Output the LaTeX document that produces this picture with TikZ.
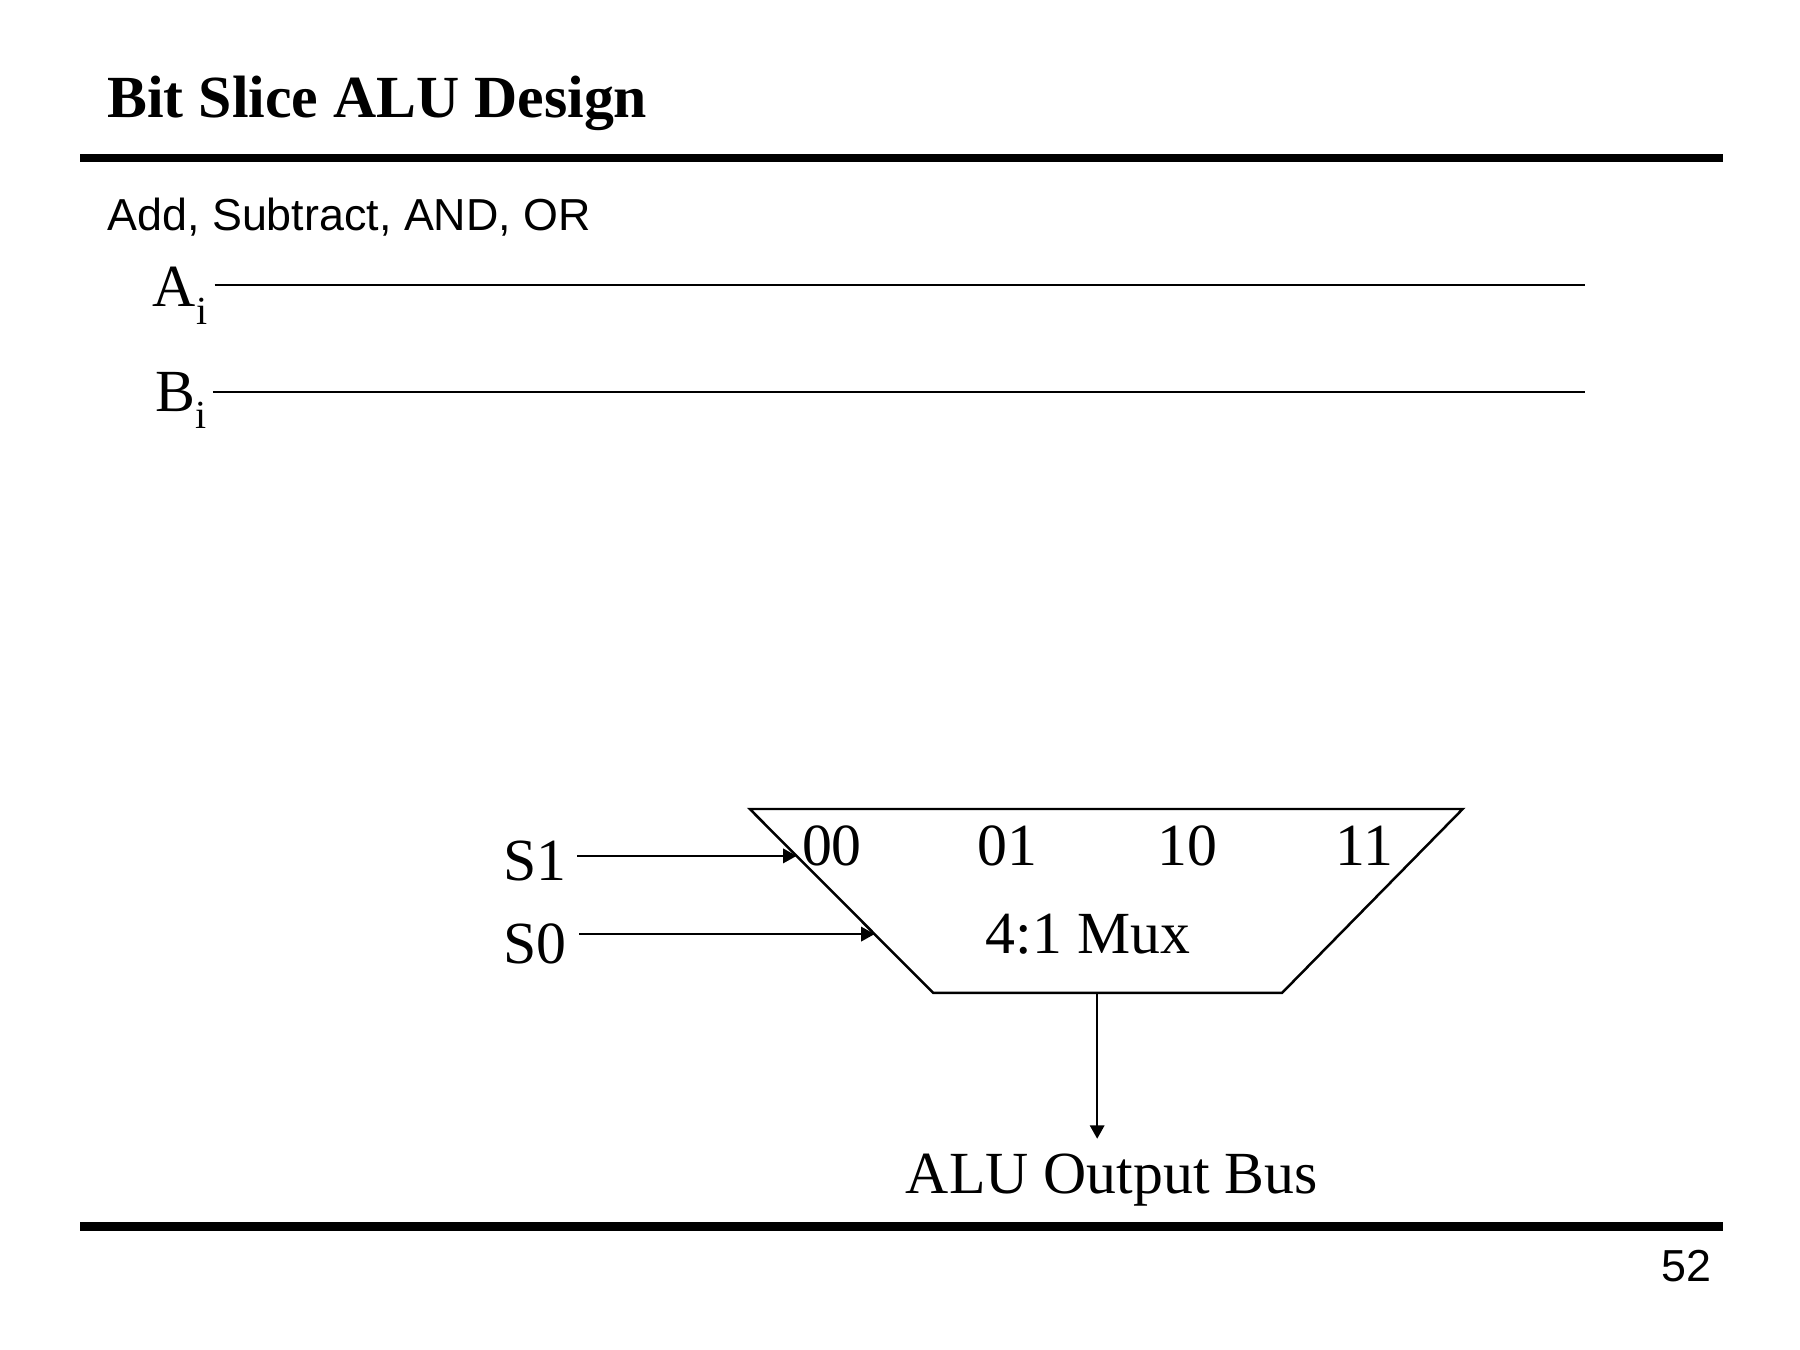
\documentclass[tikz,border=0pt]{standalone}
\usepackage{fontspec}
\setmainfont{Liberation Serif}
\newfontfamily\arialfont{Liberation Sans}
\usetikzlibrary{arrows.meta,calc}

\newcommand{\bitsub}[1]{\raisebox{-7pt}{\fontsize{16}{16}\selectfont #1}}

\begin{document}
\begin{tikzpicture}[
    rule/.style={line width=3.6pt},
    wire/.style={line width=0.9pt},
    mux/.style={line width=1pt, line join=miter},
    sig/.style={line width=0.8pt, -{Triangle[length=5.4pt,width=5.8pt]}},
    lbl/.style={font=\fontsize{24}{28}\selectfont, inner sep=0pt},
    ]

    \useasboundingbox (0,0) rectangle (25.4,19.05);

    % heading, rules and page number

    \node (title) [lbl, anchor=base west, font=\fontsize{24}{28}\selectfont\bfseries] at (1.51,17.385) {Bit Slice ALU Design};
    \draw[rule] (1.13,16.82) -- (24.31,16.82);
    \draw[rule] (1.13,1.743) -- (24.31,1.743);

    \node (ops) [anchor=base west, inner sep=0pt, font=\arialfont\fontsize{18}{22}\selectfont] at (1.51,15.80) {Add, Subtract, AND, OR};
    \node (page) [anchor=base east, inner sep=0pt, font=\arialfont\fontsize{18}{22}\selectfont] at (24.16,0.96) {52};

    % operand inputs

    \node (ai) [lbl, anchor=base west] at (2.15,14.72) {A\bitsub{i}};
    \node (bi) [lbl, anchor=base west] at (2.19,13.25) {B\bitsub{i}};

    \coordinate (aend) at (22.37,15.03);
    \coordinate (bend) at (22.37,13.52);

    \draw[wire] ($(ai.east |- aend)+(0.1,0)$) -- (aend);
    \draw[wire] ($(bi.east |- bend)+(0.08,0)$) -- (bend);

    % the 4:1 mux

    \coordinate (tl) at (10.58,7.634);
    \coordinate (tr) at (20.64,7.634);
    \coordinate (br) at (18.09,5.038);
    \coordinate (bl) at (13.17,5.038);

    \draw[mux] (tl) -- (tr) -- (br) -- (bl) -- cycle;

    \foreach \sel/\xx in {00/11.74, 01/14.22, 10/16.76, 11/19.25}
        \node (in\sel) [lbl, anchor=base] at (\xx,6.83) {\sel};

    \node (muxname) [lbl, anchor=base] at (15.35,5.60) {4:1 Mux};

    % select lines

    \node (s1) [lbl, anchor=base west] at (7.10,6.63) {S1};
    \node (s0) [lbl, anchor=base west] at (7.10,5.46) {S0};

    \coordinate (m1) at ($(tl)!0.255!(bl)$);
    \coordinate (m0) at ($(tl)!0.68!(bl)$);

    \draw[sig] ($(s1.east |- m1)+(0.14,0)$) -- (m1);
    \draw[sig] ($(s0.east |- m0)+(0.17,0)$) -- (m0);

    % output

    \coordinate (out) at ($(bl)!0.47!(br)$);
    \node (bus) [lbl, anchor=base] at (15.69,2.215) {ALU Output Bus};

    \draw[sig] (out) -- ($(out |- bus.north)+(0,0.2)$);

\end{tikzpicture}
\end{document}
